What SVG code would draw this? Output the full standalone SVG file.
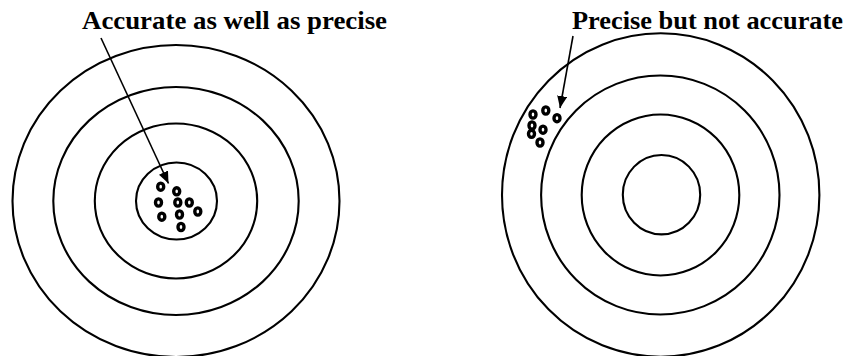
<svg xmlns="http://www.w3.org/2000/svg" width="846" height="356" viewBox="0 0 846 356">
  <style>
    .ring { fill: none; stroke: #000; stroke-width: 2.1; }
    .dot { fill: #fff; stroke: #000; stroke-width: 3.4; }
    .lbl { font-family: "Liberation Serif", "Times New Roman", serif; font-weight: bold; font-size: 26px; fill: #000; }
    .arrow { stroke: #000; stroke-width: 1.6; fill: none; marker-end: url(#head); }
  </style>
  <defs>
    <marker id="head" viewBox="0 0 12 10" refX="12" refY="5" markerWidth="12" markerHeight="10" markerUnits="userSpaceOnUse" orient="auto">
      <path d="M0,0 L12,5 L0,10 Z" fill="#000"/>
    </marker>
  </defs>
  <rect width="846" height="356" fill="#fff"/>

  <g id="target-left">
    <ellipse class="ring" cx="176" cy="201" rx="163.5" ry="156"/>
    <ellipse class="ring" cx="176" cy="201" rx="122.7" ry="114"/>
    <ellipse class="ring" cx="176" cy="201" rx="81.2" ry="77.5"/>
    <ellipse class="ring" cx="176.5" cy="201" rx="40.5" ry="38.5"/>
    <g id="hits-left">
      <ellipse class="dot" cx="160.7" cy="186.7" rx="3" ry="3.6"/>
      <ellipse class="dot" cx="176.7" cy="191.3" rx="3" ry="3.6"/>
      <ellipse class="dot" cx="158.5" cy="202.5" rx="3" ry="3.6"/>
      <ellipse class="dot" cx="177.8" cy="202.5" rx="3" ry="3.6"/>
      <ellipse class="dot" cx="189.3" cy="202.5" rx="3" ry="3.6"/>
      <ellipse class="dot" cx="197.8" cy="211.5" rx="3" ry="3.6"/>
      <ellipse class="dot" cx="161.8" cy="216.7" rx="3" ry="3.6"/>
      <ellipse class="dot" cx="179.5" cy="214.5" rx="3" ry="3.6"/>
      <ellipse class="dot" cx="181" cy="227" rx="3" ry="3.6"/>
    </g>
  </g>

  <g id="target-right">
    <ellipse class="ring" cx="660.7" cy="195" rx="158.7" ry="161.7"/>
    <ellipse class="ring" cx="660.3" cy="195" rx="119.2" ry="119.5"/>
    <ellipse class="ring" cx="660.5" cy="195" rx="78.8" ry="80.5"/>
    <ellipse class="ring" cx="661.5" cy="194.7" rx="38.7" ry="39.7"/>
    <g id="hits-right">
      <ellipse class="dot" cx="533" cy="114.5" rx="3" ry="3.6"/>
      <ellipse class="dot" cx="545.8" cy="110.5" rx="3" ry="3.6"/>
      <ellipse class="dot" cx="557" cy="118.2" rx="3" ry="3.6"/>
      <ellipse class="dot" cx="532" cy="125.5" rx="3" ry="3.6"/>
      <ellipse class="dot" cx="543" cy="129.7" rx="3" ry="3.6"/>
      <ellipse class="dot" cx="531.5" cy="133.8" rx="3" ry="3.6"/>
      <ellipse class="dot" cx="540" cy="142.5" rx="3" ry="3.6"/>
    </g>
  </g>

  <g id="label-left">
    <text class="lbl" x="82" y="29" textLength="305" lengthAdjust="spacingAndGlyphs">Accurate as well as precise</text>
  </g>
  <g id="label-right">
    <text class="lbl" x="572" y="29" textLength="271" lengthAdjust="spacingAndGlyphs">Precise but not accurate</text>
  </g>

  <g id="connectors">
    <line class="arrow" x1="101" y1="38" x2="168.5" y2="183.5"/>
    <line class="arrow" x1="573" y1="36" x2="560" y2="108"/>
  </g>
</svg>
